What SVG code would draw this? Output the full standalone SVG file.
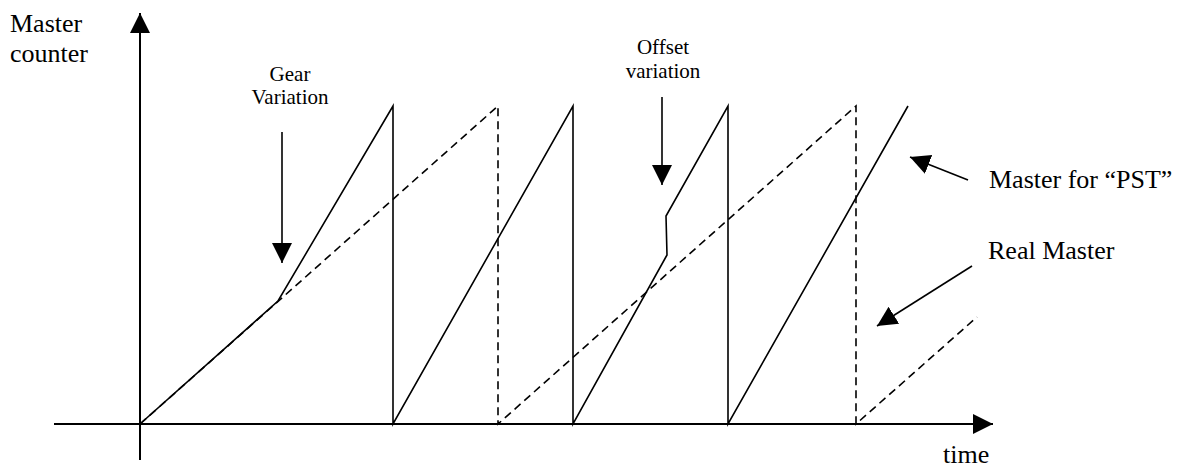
<svg xmlns="http://www.w3.org/2000/svg" width="1189" height="467" viewBox="0 0 1189 467">
<style>
.txt{font-family:"Liberation Serif","Times New Roman",serif;fill:#000}
.big{font-size:26px}
.small{font-size:21px}
.ax{stroke:#000;stroke-width:2;fill:none}
.solid{stroke:#000;stroke-width:1.6;fill:none;stroke-linejoin:miter}
.dash{stroke:#000;stroke-width:1.6;fill:none;stroke-dasharray:8 5}
.arr{stroke:#000;stroke-width:1.6;fill:none}
</style>
<defs>
<marker id="ah" markerUnits="userSpaceOnUse" markerWidth="22" markerHeight="22" refX="20" refY="10" orient="auto" viewBox="0 0 22 22">
<path d="M0,0 L20,10 L0,20 z" fill="#000"/>
</marker>
</defs>
<g id="axes">
<line class="ax" x1="140" y1="460" x2="140" y2="13" marker-end="url(#ah)"/>
<line class="ax" x1="54" y1="424" x2="993" y2="424" marker-end="url(#ah)"/>
</g>
<g id="real-master">
<polyline class="dash" points="140,424 498,106 498,424 856,106 856,424 977,317"/>
</g>
<g id="master-pst">
<polyline class="solid" points="140,424 278,301 393,106 393,424 573,106 573,424 667,255 666,216 728,106 728,424 908,106"/>
</g>
<g id="labels">
<text class="txt big" x="10" y="32">Master</text>
<text class="txt big" x="10" y="62">counter</text>
<text class="txt small" x="290" y="81" text-anchor="middle">Gear</text>
<text class="txt small" x="290" y="104" text-anchor="middle">Variation</text>
<text class="txt small" x="663" y="54" text-anchor="middle">Offset</text>
<text class="txt small" x="663" y="78" text-anchor="middle">variation</text>
<text class="txt big" x="989" y="188">Master for “PST”</text>
<text class="txt big" x="988" y="259">Real Master</text>
<text class="txt big" x="943" y="463">time</text>
</g>
<g id="connectors">
<line class="arr" x1="282" y1="132" x2="282" y2="263" marker-end="url(#ah)"/>
<line class="arr" x1="662" y1="97" x2="662" y2="185" marker-end="url(#ah)"/>
<line class="arr" x1="968" y1="180" x2="910" y2="157" marker-end="url(#ah)"/>
<line class="arr" x1="972" y1="266" x2="877" y2="326" marker-end="url(#ah)"/>
</g>
</svg>
